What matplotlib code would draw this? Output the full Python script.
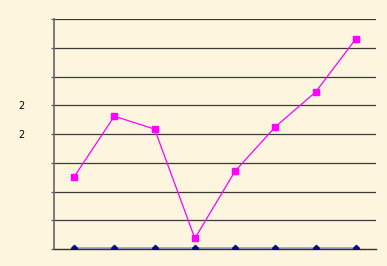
import matplotlib
matplotlib.use("Agg")
import matplotlib.pyplot as plt

# values
categories = ["1", "2", "3", "4", "5", "6", "7", "8"]
pink_vals = [2.51, 4.62, 4.17, 0.37, 2.71, 4.25, 5.46, 7.31]
blue_vals = [0.05, 0.05, 0.05, 0.05, 0.05, 0.05, 0.05, 0.05]
y_ticks = [0, 1, 2, 3, 4, 5, 6, 7, 8]
y_labels = ["", "", "", "", "2", "2", "", "", ""]

bg = "#fdf5dd"

fig = plt.figure(figsize=(3.87, 2.66), dpi=100, facecolor=bg)
ax = fig.add_axes([54 / 387, 17 / 266, 322 / 387, 230 / 266])
ax.set_facecolor(bg)

x = list(range(len(categories)))

# horizontal gridlines
for t in y_ticks[1:]:
    ax.axhline(t, color="#3a3a3a", lw=0.9, zorder=1)

ax.plot(x, blue_vals, color="#a0a0d6", lw=2.0, zorder=2)
ax.plot(x, blue_vals, ls="none", marker="D", ms=3.2, color="#0a0a80", zorder=3)
ax.plot(x, pink_vals, color="#ff00ff", lw=0.9, marker="s", ms=4.6,
        markerfacecolor="#ff00ff", markeredgecolor="#ff00ff", zorder=4)

ax.set_xlim(-0.5, 7.5)
ax.set_ylim(0, 8)
ax.set_xticks([])
ax.set_yticks(y_ticks)
ax.set_yticklabels(y_labels, fontsize=7, fontfamily="DejaVu Sans")
ax.tick_params(axis="y", length=2.5, width=0.9, color="#555555", pad=18.5)

for s in ["top", "right"]:
    ax.spines[s].set_visible(False)
ax.spines["left"].set_color("#666666")
ax.spines["left"].set_linewidth(1.2)
ax.spines["bottom"].set_color("#333333")
ax.spines["bottom"].set_linewidth(1.0)

fig.savefig("out.png", dpi=100, facecolor=bg)
